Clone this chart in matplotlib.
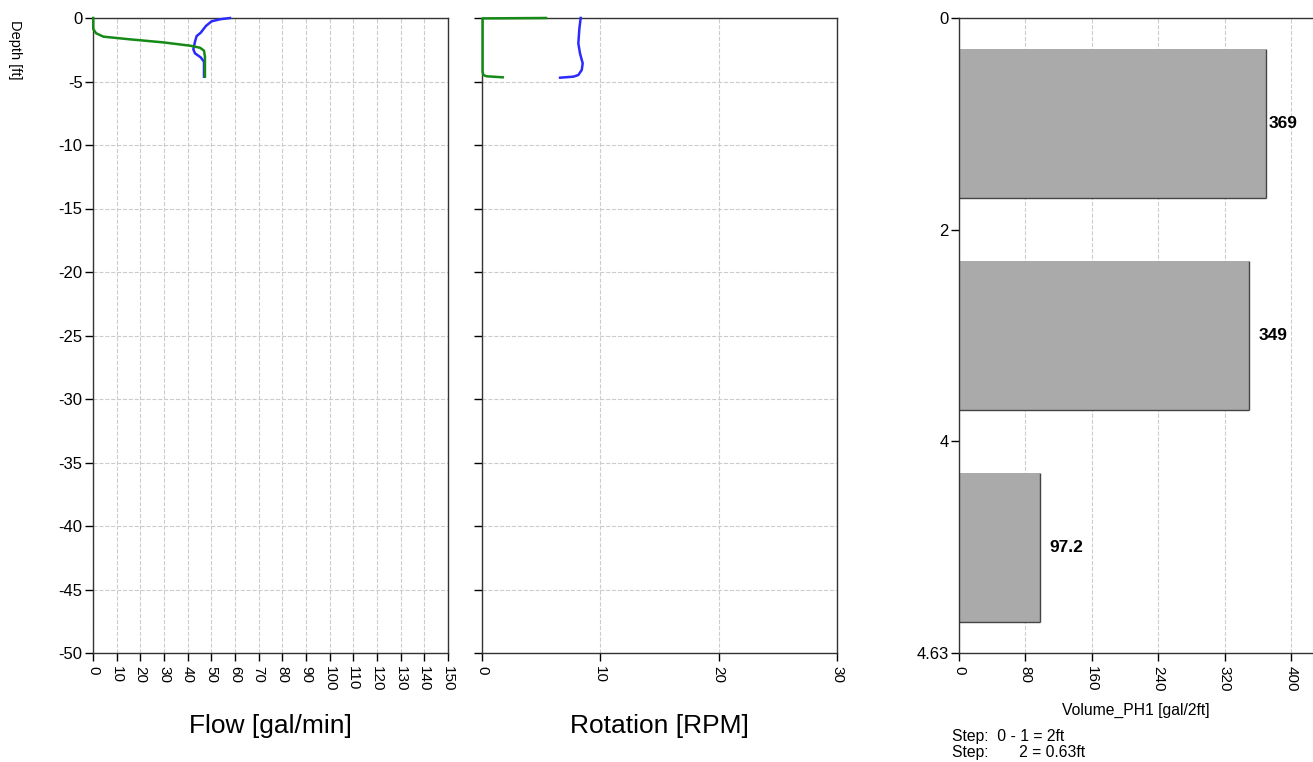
import numpy as np
import matplotlib.pyplot as plt

plt.rcParams['font.family'] = ['Liberation Sans', 'DejaVu Sans']
plt.rcParams['axes.unicode_minus'] = False

# flow log [gal/min] vs depth [ft]
flow_blue_x = [57.9, 53.7, 50.1, 47.7, 45.5, 43.8, 43.1, 42.4, 43.1, 45.5, 46.9, 46.9]
flow_blue_y = [0, -0.1, -0.26, -0.63, -1.16, -1.42, -1.86, -2.47, -2.78, -3.1, -3.44, -4.62]
flow_green_x = [0.1, 0.1, 1.3, 4.4, 15.6, 29.7, 41.0, 45.2, 46.9, 47.3, 47.3]
flow_green_y = [0, -0.87, -1.2, -1.47, -1.68, -1.92, -2.18, -2.34, -2.57, -3.05, -4.62]

# rotation log [RPM] vs depth [ft]
rot_blue_x = [8.34, 8.23, 8.14, 8.28, 8.51, 8.43, 8.14, 7.72, 6.6]
rot_blue_y = [0, -0.81, -2.0, -2.78, -3.57, -4.09, -4.49, -4.62, -4.7]
rot_green_x = [5.41, 0.05, 0.05, 0.11, 0.4, 1.75]
rot_green_y = [0, -0.03, -4.23, -4.49, -4.59, -4.67]

# volume per step
step_labels = ['0', '2', '4', '4.63']
volumes = [369, 349, 97.2]
volume_text = ['369', '349', '97.2']

W, H = 1313, 762
fig = plt.figure(figsize=(W / 100, H / 100), dpi=100)

spine_col = '#333333'
blue = '#2a2aff'
green = '#168a16'
grid_kw = dict(color='#cccccc', linestyle='--', linewidth=0.8)


def style_axes(ax):
    for s in ax.spines.values():
        s.set_color(spine_col)
        s.set_linewidth(1.0)
    ax.tick_params(direction='out', length=6, width=1, colors='black',
                   labelsize=11)
    ax.tick_params(axis='y', pad=1.5, labelsize=12)
    ax.set_axisbelow(True)


# panel 1: flow
ax1 = fig.add_axes([93 / W, 1 - 653 / H, 355 / W, 635 / H])
ax1.plot(flow_blue_x, flow_blue_y, color=blue, lw=1.8, clip_on=False, zorder=5)
ax1.plot(flow_green_x, flow_green_y, color=green, lw=1.8, clip_on=False, zorder=5)
ax1.set_xlim(0, 150)
ax1.set_ylim(-50, 0)
ax1.set_xticks(np.arange(0, 151, 10))
ax1.set_yticks(np.arange(-50, 1, 5))
ax1.tick_params(axis='x', labelrotation=270)
ax1.grid(True, **grid_kw)
style_axes(ax1)

# panel 2: rotation
ax2 = fig.add_axes([482 / W, 1 - 653 / H, 355 / W, 635 / H])
ax2.plot(rot_blue_x, rot_blue_y, color=blue, lw=1.8, clip_on=False, zorder=5)
ax2.plot(rot_green_x, rot_green_y, color=green, lw=1.8, clip_on=False, zorder=5)
ax2.set_xlim(0, 30)
ax2.set_ylim(-50, 0)
ax2.set_xticks([0, 10, 20, 30])
ax2.set_yticks(np.arange(-50, 1, 5))
ax2.set_yticklabels([])
ax2.tick_params(axis='x', labelrotation=270)
ax2.grid(True, **grid_kw)
style_axes(ax2)

# panel 3: volume bars
ax3 = fig.add_axes([959 / W, 1 - 653 / H, 354 / W, 635 / H])
pos = np.arange(len(volumes)) + 0.5
bar_h = 0.705
ax3.barh(pos, volumes, height=bar_h, color='#aaaaaa', edgecolor='none')
# darker right / bottom edge of each bar
ax3.vlines(volumes, pos - bar_h / 2, pos + bar_h / 2, color='#444444', lw=1)
ax3.hlines(pos + bar_h / 2, 0, volumes, color='#444444', lw=1)
for p, v, t in zip(pos, volumes, volume_text):
    ax3.text(min(v + 11, 373), p, t, va='center', ha='left', fontsize=12.5,
             fontweight='bold')
ax3.set_ylim(len(volumes), 0)
ax3.set_yticks(np.arange(len(step_labels)))
ax3.set_yticklabels(step_labels)
ax3.set_xlim(0, 426)
ax3.set_xticks([0, 80, 160, 240, 320, 400])
ax3.tick_params(axis='x', labelrotation=270)
ax3.grid(True, axis='x', **grid_kw)
style_axes(ax3)
ax3.spines['right'].set_visible(False)

# labels
fig.text(15 / W, 1 - 20 / H, 'Depth [ft]', rotation=270, ha='center',
         va='top', fontsize=10.5)
fig.text(270.5 / W, 1 - 726 / H, 'Flow [gal/min]', ha='center',
         va='center', fontsize=19)
fig.text(659.5 / W, 1 - 726 / H, 'Rotation [RPM]', ha='center',
         va='center', fontsize=19)
fig.text(1136 / W, 1 - 710 / H, 'Volume_PH1 [gal/2ft]', ha='center',
         va='center', fontsize=11.3)
fig.text(952 / W, 1 - 737 / H, 'Step:  0 - 1 = 2ft', ha='left',
         va='center', fontsize=11.3)
fig.text(952 / W, 1 - 753 / H, 'Step:       2 = 0.63ft', ha='left',
         va='center', fontsize=11.3)

fig.savefig('out.png', dpi=100)
